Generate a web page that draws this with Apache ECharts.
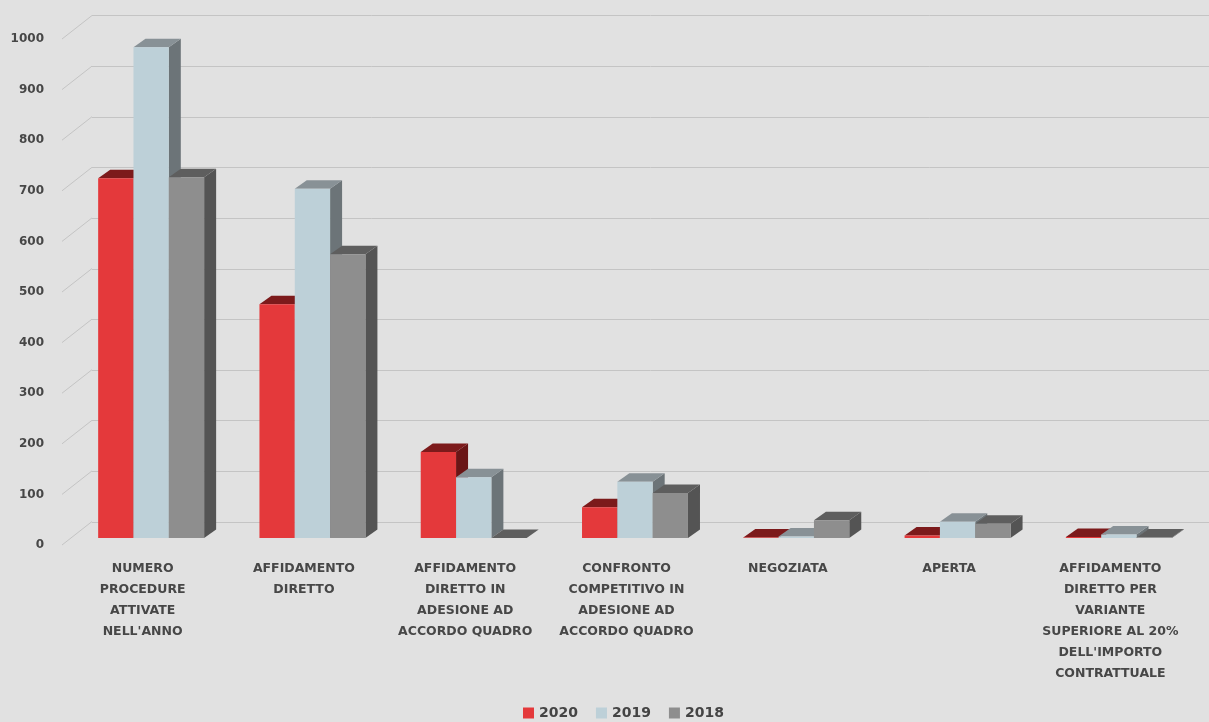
<!DOCTYPE html>
<html>
<head>
<meta charset="utf-8">
<script src="https://cdn.jsdelivr.net/npm/echarts@6/dist/echarts.min.js"></script>
<style>
  html, body { margin: 0; padding: 0; background: #e1e1e1; }
  #chart { width: 1209px; height: 722px; }
</style>
</head>
<body>
<div id="chart"></div>
<script>
const categories = [
  'NUMERO\nPROCEDURE\nATTIVATE\nNELL\'ANNO',
  'AFFIDAMENTO\nDIRETTO',
  'AFFIDAMENTO\nDIRETTO IN\nADESIONE AD\nACCORDO QUADRO',
  'CONFRONTO\nCOMPETITIVO IN\nADESIONE AD\nACCORDO QUADRO',
  'NEGOZIATA',
  'APERTA',
  'AFFIDAMENTO\nDIRETTO PER\nVARIANTE\nSUPERIORE AL 20%\nDELL\'IMPORTO\nCONTRATTUALE'
];
const years = ['2020', '2019', '2018'];
const values2020 = [711, 462, 170, 61, 1, 5, 2];
const values2019 = [970, 690, 120, 111, 3, 32, 7];
const values2018 = [713, 561, 0, 89, 35, 28, 1];
const yTicks = [0, 100, 200, 300, 400, 500, 600, 700, 800, 900, 1000];

// front / top / side colours per year
const palette = [
  { front: '#e4393b', top: '#7c1a1b', side: '#6a1516' },
  { front: '#bdd0d8', top: '#889196', side: '#6c7478' },
  { front: '#8e8e8e', top: '#5e5e5e', side: '#545454' }
];

// wall depth (front plane -> back wall)
const WALL_DX = 30, WALL_DY = -23.5;
// bars sit a little behind the front plane
const SHIFT_X = 8.5, SHIFT_Y = -7;
// bar depth
const BAR_DX = 12, BAR_DY = -8.5;

function barRenderer(idx) {
  const c = palette[idx];
  return function (params, api) {
    const cat = api.value(0);
    const val = api.value(1);
    const top = api.coord([cat, val]);
    const base = api.coord([cat, 0]);
    const band = api.size([1, 0])[0];
    const w = band * 0.219;
    const x0 = top[0] + SHIFT_X - 1.5 * w + idx * w;
    const x1 = x0 + w;
    const yT = top[1] + SHIFT_Y;
    const yB = base[1] + SHIFT_Y;
    return {
      type: 'group',
      children: [
        {
          type: 'polygon',
          shape: { points: [[x1, yB], [x1 + BAR_DX, yB + BAR_DY], [x1 + BAR_DX, yT + BAR_DY], [x1, yT]] },
          style: { fill: c.side }
        },
        {
          type: 'polygon',
          shape: { points: [[x0, yT], [x1, yT], [x1 + BAR_DX, yT + BAR_DY], [x0 + BAR_DX, yT + BAR_DY]] },
          style: { fill: c.top }
        },
        {
          type: 'rect',
          shape: { x: x0, y: yT, width: w, height: Math.max(yB - yT, 0) },
          style: { fill: c.front }
        }
      ]
    };
  };
}

const chart = echarts.init(document.getElementById('chart'));

const series = [
  {
    // oblique grid lines on the left wall
    type: 'custom',
    xAxisIndex: 0,
    yAxisIndex: 0,
    silent: true,
    data: yTicks.map(v => [0, v]),
    renderItem: (params, api) => {
      const p = api.coord([0, api.value(1)]);
      const x = params.coordSys.x;
      return {
        type: 'line',
        shape: { x1: x, y1: p[1], x2: x + WALL_DX, y2: p[1] + WALL_DY },
        style: { stroke: '#c4c4c4', lineWidth: 1 }
      };
    }
  }
];

[values2020, values2019, values2018].forEach((vals, i) => {
  series.push({
    name: years[i],
    type: 'custom',
    xAxisIndex: 0,
    yAxisIndex: 0,
    itemStyle: { color: palette[i].front },
    data: vals.map((v, k) => [k, v]),
    renderItem: barRenderer(i)
  });
});

const option = {
  backgroundColor: '#e1e1e1',
  animation: false,
  legend: {
    data: years,
    left: 518,
    top: 701,
    icon: 'rect',
    itemWidth: 11,
    itemHeight: 11,
    itemGap: 18,
    textStyle: { fontFamily: 'DejaVu Sans', fontWeight: 'bold', fontSize: 14, color: '#444444' }
  },
  grid: [
    // front plane
    { left: 62, top: 39, width: 1129, height: 506 },
    // back wall
    { left: 92, top: 15.5, width: 1129, height: 506.5 }
  ],
  xAxis: [
    {
      type: 'category',
      gridIndex: 0,
      data: categories,
      axisLine: { show: false },
      axisTick: { show: false },
      axisLabel: {
        interval: 0,
        margin: 13,
        lineHeight: 21,
        fontFamily: 'DejaVu Sans',
        fontWeight: 'bold',
        fontSize: 12.5,
        color: '#474747'
      }
    },
    {
      type: 'category',
      gridIndex: 1,
      data: categories,
      show: false
    }
  ],
  yAxis: [
    {
      type: 'value',
      gridIndex: 0,
      min: 0,
      max: 1000,
      interval: 100,
      axisLine: { show: false },
      axisTick: { show: false },
      splitLine: { show: false },
      axisLabel: {
        margin: 18,
        formatter: v => String(v),
        fontFamily: 'DejaVu Sans',
        fontWeight: 'bold',
        fontSize: 12,
        color: '#474747'
      }
    },
    {
      type: 'value',
      gridIndex: 1,
      min: 0,
      max: 1000,
      interval: 100,
      axisLine: { show: false },
      axisTick: { show: false },
      axisLabel: { show: false },
      splitLine: { lineStyle: { color: '#c4c4c4', width: 1 } }
    }
  ],
  series: series
};

chart.setOption(option);
</script>
</body>
</html>
